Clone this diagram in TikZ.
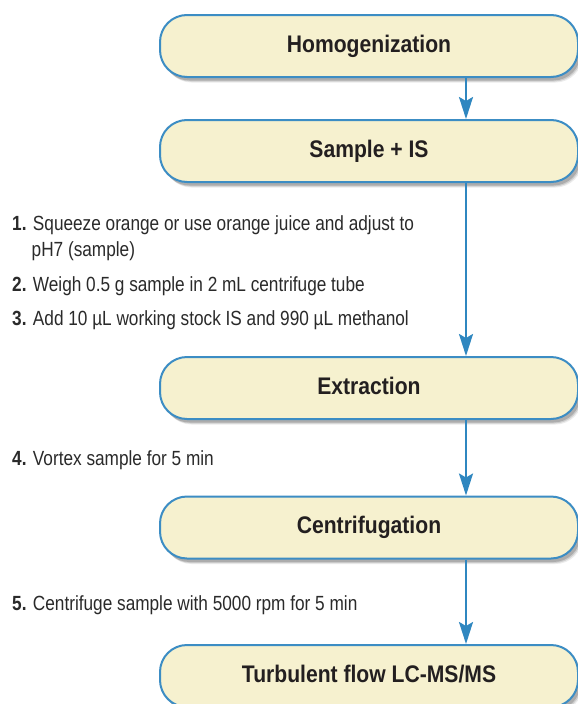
\documentclass[tikz,border=0pt]{standalone}
\usepackage{fontspec}
\setmainfont{Liberation Sans}[FakeStretch=0.84]
\newfontfamily\boxfont{Liberation Sans}[FakeStretch=0.88]
\usetikzlibrary{arrows.meta,shadows}
\definecolor{boxfill}{HTML}{F6F1CF}
\definecolor{boxline}{HTML}{3C8DC4}
\definecolor{arrcol}{HTML}{2F87C0}
\definecolor{txtcol}{HTML}{2A2A2A}
\definecolor{lblcol}{HTML}{231F20}
\tikzset{
  stagebox/.style={draw=boxline, line width=2pt, fill=boxfill, rounded corners=27pt,
    minimum width=418pt, minimum height=62pt, inner sep=0pt,
    text height=17.2pt, text depth=5pt, text=lblcol,
    font=\boxfont\fontsize{24}{27}\selectfont\bfseries,
    drop shadow={shadow xshift=4.5pt, shadow yshift=-5.5pt, fill=black, opacity=0.08},
    drop shadow={shadow xshift=3.5pt, shadow yshift=-4.5pt, fill=black, opacity=0.12},
    drop shadow={shadow xshift=2.5pt, shadow yshift=-3.5pt, fill=black, opacity=0.16}},
  flowarr/.style={draw=arrcol, line width=2.2pt,
    -{Stealth[length=22pt,width=14pt,inset=4pt]}},
  steptext/.style={anchor=base west, inner sep=0pt, text=txtcol,
    font=\fontsize{20.5}{23}\selectfont}
}
\begin{document}
\begin{tikzpicture}[x=1pt,y=-1pt]
\clip (0,0) rectangle (578,704);
\fill[white] (0,0) rectangle (578,704);
\coordinate (ax) at (466,0);

\node[stagebox] (homo) at (369,46) {Homogenization};
\node[stagebox] (samp) at (369,151) {Sample + IS};
\node[stagebox] (extr) at (369,388) {Extraction};
\node[stagebox] (cent) at (369,527.5) {Centrifugation};
\node[stagebox] (turb) at (369,676) {Turbulent flow LC-MS/MS};

\draw[flowarr] (homo.south -| ax) -- (samp.north -| ax);
\draw[flowarr] (samp.south -| ax) -- (extr.north -| ax);
\draw[flowarr] (extr.south -| ax) -- (cent.north -| ax);
\draw[flowarr] (cent.south -| ax) -- (turb.north -| ax);

\node[steptext] (s1) at (12,230) {\textbf{1.} Squeeze orange or use orange juice and adjust to};
\node[steptext] (s1b) at (31.5,256) {pH7 (sample)};
\node[steptext] (s2) at (12,291) {\textbf{2.} Weigh 0.5 g sample in 2 mL centrifuge tube};
\node[steptext] (s3) at (12,325) {\textbf{3.} Add 10 µL working stock IS and 990 µL methanol};
\node[steptext] (s4) at (12,465) {\textbf{4.} Vortex sample for 5 min};
\node[steptext] (s5) at (12,610) {\textbf{5.} Centrifuge sample with 5000 rpm for 5 min};
\end{tikzpicture}
\end{document}
